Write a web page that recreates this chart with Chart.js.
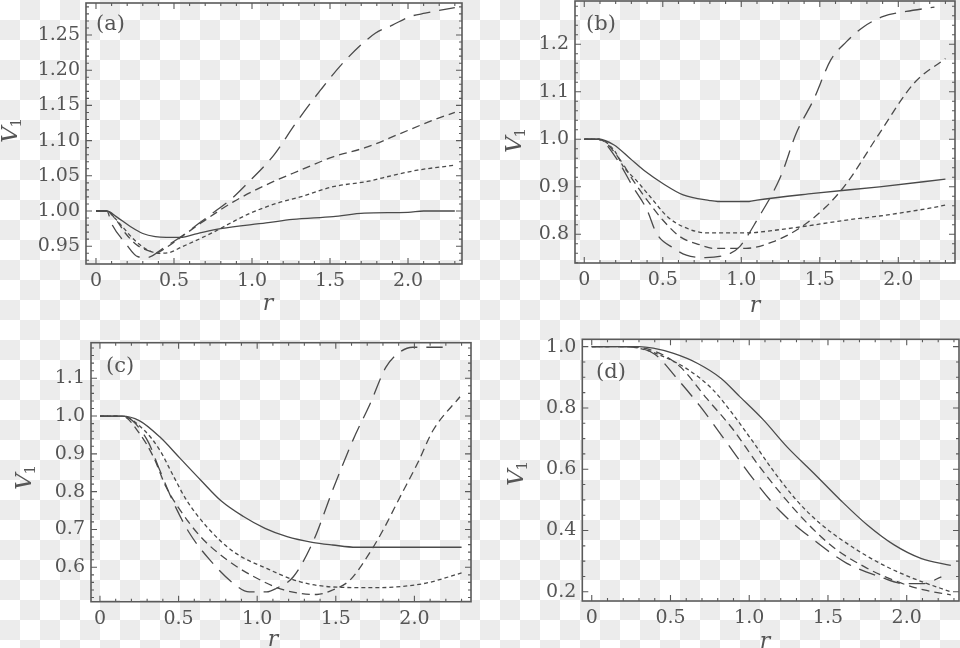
<!DOCTYPE html>
<html><head><meta charset="utf-8">
<script src="https://cdn.jsdelivr.net/npm/chart.js@4/dist/chart.umd.min.js"></script>
<style>
html,body{margin:0;padding:0;}
body{width:960px;height:648px;overflow:hidden;position:relative;background-color:#ffffff;
background-image:url("data:image/svg+xml,%3Csvg xmlns='http://www.w3.org/2000/svg' width='40' height='40'%3E%3Crect x='20' y='0' width='20' height='20' fill='%23ececec'/%3E%3Crect x='0' y='20' width='20' height='20' fill='%23ececec'/%3E%3C/svg%3E");
background-size:40px 40px;background-repeat:repeat;}
.p{position:absolute;width:480px;height:324px;}
</style></head><body>
<div class="p" style="left:0;top:0"><canvas id="ca" width="480" height="324"></canvas></div>
<div class="p" style="left:480px;top:0"><canvas id="cb" width="480" height="324"></canvas></div>
<div class="p" style="left:0;top:324px"><canvas id="cc" width="480" height="324"></canvas></div>
<div class="p" style="left:480px;top:324px"><canvas id="cd" width="480" height="324"></canvas></div>
<script>
// ---------- tick values / labels ----------
const X_TICKS = [0, 0.5, 1.0, 1.5, 2.0];
const X_LABELS = ['0', '0.5', '1.0', '1.5', '2.0'];
const A_Y_TICKS = [0.95, 1.00, 1.05, 1.10, 1.15, 1.20, 1.25];
const A_Y_LABELS = ['0.95', '1.00', '1.05', '1.10', '1.15', '1.20', '1.25'];
const B_Y_TICKS = [0.8, 0.9, 1.0, 1.1, 1.2];
const B_Y_LABELS = ['0.8', '0.9', '1.0', '1.1', '1.2'];
const C_Y_TICKS = [0.6, 0.7, 0.8, 0.9, 1.0, 1.1];
const C_Y_LABELS = ['0.6', '0.7', '0.8', '0.9', '1.0', '1.1'];
const D_Y_TICKS = [0.2, 0.4, 0.6, 0.8, 1.0];
const D_Y_LABELS = ['0.2', '0.4', '0.6', '0.8', '1.0'];

// ---------- panel (a) ----------
const A_SOLID_R = [0, 0.07, 0.13, 0.22, 0.30, 0.38, 0.45, 0.54, 0.65, 0.80, 1.09, 1.26, 1.52, 1.72, 2.0, 2.1, 2.30];
const A_SOLID_V = [1.0, 1.0, 0.992, 0.978, 0.968, 0.9635, 0.9625, 0.9625, 0.968, 0.975, 0.983, 0.988, 0.992, 0.997, 0.998, 1.0, 1.0];
const A_SHORT_R = [0, 0.07, 0.12, 0.18, 0.25, 0.32, 0.40, 0.47, 0.55, 0.67, 0.78, 0.88, 0.99, 1.16, 1.31, 1.52, 1.74, 1.91, 2.06, 2.30];
const A_SHORT_V = [1, 1, 0.99, 0.975, 0.958, 0.946, 0.940, 0.941, 0.949, 0.961, 0.973, 0.985, 0.997, 1.011, 1.02, 1.0345, 1.042, 1.051, 1.058, 1.065];
const A_MED_R = [0, 0.07, 0.13, 0.19, 0.26, 0.33, 0.39, 0.45, 0.54, 0.67, 0.88, 1.09, 1.31, 1.52, 1.74, 1.95, 2.16, 2.30];
const A_MED_V = [1, 1, 0.987, 0.968, 0.952, 0.944, 0.941, 0.948, 0.962, 0.9825, 1.013, 1.037, 1.058, 1.077, 1.091, 1.110, 1.129, 1.14];
const A_LONG_R = [0, 0.07, 0.10, 0.19, 0.27, 0.33, 0.43, 0.56, 0.66, 0.76, 0.86, 0.96, 1.14, 1.28, 1.44, 1.60, 1.79, 1.90, 2.01, 2.11, 2.30];
const A_LONG_V = [1, 1, 0.982, 0.954, 0.935, 0.934, 0.947, 0.966, 0.9825, 0.999, 1.0156, 1.037, 1.0795, 1.1246, 1.172, 1.2145, 1.2524, 1.264, 1.276, 1.281, 1.289];

// ---------- panel (b) ----------
const B_SOLID_R = [0, 0.09, 0.19, 0.29, 0.39, 0.50, 0.63, 0.80, 0.85, 1.05, 1.10, 1.46, 1.88, 2.30];
const B_SOLID_V = [1, 1, 0.988, 0.96, 0.932, 0.907, 0.883, 0.871, 0.869, 0.869, 0.872, 0.886, 0.900, 0.916];
const B_SHORT_R = [0, 0.09, 0.19, 0.25, 0.33, 0.42, 0.53, 0.63, 0.78, 1.03, 1.25, 1.46, 1.67, 1.88, 2.2, 2.31];
const B_SHORT_V = [1, 1, 0.977, 0.942, 0.914, 0.879, 0.837, 0.816, 0.803, 0.803, 0.810, 0.8196, 0.830, 0.8385, 0.855, 0.862];
const B_MED_R = [0, 0.09, 0.23, 0.31, 0.40, 0.50, 0.61, 0.74, 0.82, 1.03, 1.20, 1.37, 1.54, 1.67, 1.88, 2.10, 2.30];
const B_MED_V = [1, 1, 0.956, 0.914, 0.872, 0.83, 0.795, 0.7775, 0.7705, 0.7705, 0.784, 0.8126, 0.858, 0.907, 1.0126, 1.118, 1.17];
const B_LONG_R = [0, 0.09, 0.20, 0.31, 0.40, 0.46, 0.57, 0.65, 0.77, 0.93, 0.99, 1.10, 1.25, 1.35, 1.46, 1.57, 1.67, 1.78, 1.90, 2.05, 2.23];
const B_LONG_V = [1, 1, 0.962, 0.90, 0.851, 0.802, 0.7705, 0.756, 0.751, 0.76, 0.774, 0.83, 0.921, 1.0126, 1.083, 1.167, 1.2055, 1.237, 1.258, 1.269, 1.278];

// ---------- panel (c) ----------
const C_SOLID_R = [0, 0.14, 0.25, 0.38, 0.51, 0.64, 0.77, 0.91, 1.05, 1.19, 1.35, 1.48, 1.63, 2.30];
const C_SOLID_V = [1, 1, 0.988, 0.945, 0.888, 0.831, 0.776, 0.735, 0.703, 0.681, 0.666, 0.659, 0.653, 0.653];
const C_SHORT_R = [0, 0.14, 0.28, 0.38, 0.47, 0.55, 0.68, 0.85, 1.06, 1.27, 1.48, 1.74, 2.06, 2.30];
const C_SHORT_V = [1, 1, 0.963, 0.910, 0.839, 0.778, 0.707, 0.641, 0.597, 0.562, 0.548, 0.546, 0.557, 0.585];
const C_MED_R = [0, 0.14, 0.25, 0.34, 0.42, 0.51, 0.64, 0.81, 0.98, 1.17, 1.38, 1.48, 1.59, 1.70, 1.80, 1.91, 2.02, 2.12, 2.29];
const C_MED_V = [1, 1, 0.955, 0.892, 0.813, 0.751, 0.681, 0.619, 0.575, 0.540, 0.528, 0.540, 0.566, 0.628, 0.698, 0.787, 0.875, 0.963, 1.051];
const C_LONG_R = [0, 0.14, 0.30, 0.38, 0.47, 0.57, 0.70, 0.85, 0.95, 1.06, 1.12, 1.23, 1.36, 1.48, 1.61, 1.72, 1.82, 1.91, 1.99, 2.18];
const C_LONG_V = [1, 1, 0.937, 0.857, 0.769, 0.690, 0.619, 0.557, 0.535, 0.535, 0.544, 0.575, 0.672, 0.804, 0.937, 1.034, 1.130, 1.170, 1.182, 1.182];

// ---------- panel (d) ----------
const D_SOLID_R = [0, 0.30, 0.39, 0.52, 0.67, 0.82, 0.94, 1.09, 1.24, 1.41, 1.58, 1.75, 1.92, 2.09, 2.28];
const D_SOLID_V = [1, 1, 0.995, 0.978, 0.946, 0.897, 0.837, 0.761, 0.673, 0.587, 0.499, 0.418, 0.353, 0.309, 0.286];
const D_SHORT_R = [0, 0.20, 0.30, 0.43, 0.60, 0.77, 0.90, 1.03, 1.15, 1.30, 1.45, 1.62, 1.83, 2.04, 2.28];
const D_SHORT_V = [1, 1, 0.995, 0.973, 0.929, 0.859, 0.777, 0.685, 0.597, 0.499, 0.423, 0.358, 0.293, 0.244, 0.20];
const D_MED_R = [0, 0.20, 0.40, 0.56, 0.73, 0.90, 1.05, 1.20, 1.37, 1.53, 1.73, 1.94, 2.11, 2.28];
const D_MED_V = [1, 1, 0.985, 0.935, 0.831, 0.728, 0.619, 0.521, 0.423, 0.347, 0.282, 0.233, 0.206, 0.19];
const D_LONG_R = [0, 0.20, 0.40, 0.54, 0.69, 0.86, 1.03, 1.20, 1.41, 1.62, 1.83, 1.98, 2.11, 2.22];
const D_LONG_V = [1, 1, 0.975, 0.897, 0.804, 0.685, 0.565, 0.461, 0.369, 0.293, 0.249, 0.227, 0.227, 0.249];

// ---------- styling ----------
const LINE_COLOR = '#4a4a4a';
const TEXT_COLOR = '#555555';
const FRAME_COLOR = '#5a5a5a';
const DASH = { solid: [], short: [4, 3], med: [8, 5], long: [17, 9] };
const TICK_FONT = { family: "'DejaVu Serif', serif", size: 19 };

function series(r, v, kind) {
  return {
    data: r.map((x, i) => ({ x: x, y: v[i] })),
    showLine: true, borderColor: LINE_COLOR, borderWidth: 1.3,
    borderDash: DASH[kind], pointRadius: 0, pointHoverRadius: 0,
    cubicInterpolationMode: 'monotone', fill: false
  };
}

const framePlugin = {
  id: 'frame',
  afterDatasetsDraw(chart) {
    const o = chart.config.options.plugins.frame;
    const ctx = chart.ctx, a = chart.chartArea;
    const xs = chart.scales.x, ys = chart.scales.y;
    ctx.save();
    ctx.strokeStyle = FRAME_COLOR;
    ctx.lineWidth = 1.1;
    const drawTicks = (scale, step, major, horiz) => {
      const k0 = Math.ceil(scale.min / step - 1e-9), k1 = Math.floor(scale.max / step + 1e-9);
      for (let k = k0; k <= k1; k++) {
        const v = k * step;
        const isMajor = Math.abs(v / major - Math.round(v / major)) < 1e-6;
        const len = isMajor ? 6 : 3;
        const p = scale.getPixelForValue(v);
        ctx.beginPath();
        if (horiz) {
          ctx.moveTo(p, a.bottom); ctx.lineTo(p, a.bottom - len);
          ctx.moveTo(p, a.top); ctx.lineTo(p, a.top + len);
        } else {
          ctx.moveTo(a.left, p); ctx.lineTo(a.left + len, p);
          ctx.moveTo(a.right, p); ctx.lineTo(a.right - len, p);
        }
        ctx.stroke();
      }
    };
    drawTicks(xs, 0.1, 0.5, true);
    drawTicks(ys, o.yMinor, o.yMajor, false);
    ctx.lineWidth = 1.6;
    ctx.strokeRect(a.left, a.top, a.right - a.left, a.bottom - a.top);
    ctx.restore();
  },
  afterDraw(chart) {
    const o = chart.config.options.plugins.frame;
    const ctx = chart.ctx;
    ctx.save();
    ctx.fillStyle = TEXT_COLOR;
    ctx.textBaseline = 'middle';
    // panel tag
    ctx.font = "21px 'DejaVu Serif', serif";
    ctx.textAlign = 'left';
    ctx.fillText(o.tag, o.tagPos[0], o.tagPos[1]);
    // x title
    ctx.font = "italic 22px 'DejaVu Serif', serif";
    ctx.textAlign = 'center';
    ctx.fillText('r', o.rPos[0], o.rPos[1]);
    // y title V1 rotated
    ctx.translate(o.vPos[0], o.vPos[1]);
    ctx.rotate(-Math.PI / 2);
    ctx.font = "italic 23px 'DejaVu Serif', serif";
    const wV = ctx.measureText('V').width;
    ctx.font = "15px 'DejaVu Serif', serif";
    const w1 = ctx.measureText('1').width;
    const start = -(wV + w1) / 2;
    ctx.textAlign = 'left';
    ctx.font = "italic 23px 'DejaVu Serif', serif";
    ctx.fillText('V', start, 0);
    ctx.font = "15px 'DejaVu Serif', serif";
    ctx.fillText('1', start + wV - 1, 6);
    ctx.restore();
  }
};

function makePanel(id, p) {
  const H = 324, W = 480;
  new Chart(document.getElementById(id), {
    type: 'scatter',
    data: { datasets: p.sets },
    options: {
      responsive: false, animation: false, devicePixelRatio: 1,
      layout: { padding: { left: 0, top: p.area.t, right: W - p.area.r, bottom: 0 } },
      plugins: {
        legend: { display: false }, tooltip: { enabled: false },
        frame: { yMinor: p.yMinor, yMajor: p.yMajor, tag: p.tag, tagPos: p.tagPos, vPos: p.vPos, rPos: p.rPos }
      },
      scales: {
        x: {
          type: 'linear', min: p.xMin, max: p.xMax,
          afterBuildTicks: s => { s.ticks = X_TICKS.map(v => ({ value: v })); },
          afterFit: s => { s.height = H - p.area.b; s.paddingLeft = 0; s.paddingRight = 0; s.paddingTop = 0; s.paddingBottom = 0; },
          ticks: { callback: (v, i) => X_LABELS[i], font: TICK_FONT, color: TEXT_COLOR, padding: 6, maxRotation: 0, autoSkip: false },
          grid: { display: false, drawTicks: false }, border: { display: false }
        },
        y: {
          type: 'linear', min: p.yMin, max: p.yMax,
          afterBuildTicks: s => { s.ticks = p.yTicks.map(v => ({ value: v })); },
          afterFit: s => { s.width = p.area.l; s.paddingLeft = 0; s.paddingRight = 0; s.paddingTop = 0; s.paddingBottom = 0; },
          ticks: { callback: (v, i) => p.yLabels[i], font: TICK_FONT, color: TEXT_COLOR, padding: 6, autoSkip: false },
          grid: { display: false, drawTicks: false }, border: { display: false }
        }
      }
    },
    plugins: [framePlugin]
  });
}

makePanel('ca', {
  area: { l: 86, r: 462, t: 3, b: 264 }, xMin: -0.064, xMax: 2.346, yMin: 0.9247, yMax: 1.2955,
  yTicks: A_Y_TICKS, yLabels: A_Y_LABELS, yMinor: 0.01, yMajor: 0.05,
  tag: '(a)', tagPos: [96, 25], vPos: [11, 130], rPos: [268, 304],
  sets: [series(A_SOLID_R, A_SOLID_V, 'solid'), series(A_SHORT_R, A_SHORT_V, 'short'),
         series(A_MED_R, A_MED_V, 'med'), series(A_LONG_R, A_LONG_V, 'long')]
});
makePanel('cb', {
  area: { l: 95, r: 475, t: 1, b: 263 }, xMin: -0.059, xMax: 2.361, yMin: 0.7396, yMax: 1.291,
  yTicks: B_Y_TICKS, yLabels: B_Y_LABELS, yMinor: 0.02, yMajor: 0.1,
  tag: '(b)', tagPos: [106, 25], vPos: [35, 140], rPos: [275, 306],
  sets: [series(B_SOLID_R, B_SOLID_V, 'solid'), series(B_SHORT_R, B_SHORT_V, 'short'),
         series(B_MED_R, B_MED_V, 'med'), series(B_LONG_R, B_LONG_V, 'long')]
});
makePanel('cc', {
  area: { l: 91, r: 471, t: 18.7, b: 277.7 }, xMin: -0.057, xMax: 2.36, yMin: 0.509, yMax: 1.194,
  yTicks: C_Y_TICKS, yLabels: C_Y_LABELS, yMinor: 0.02, yMajor: 0.1,
  tag: '(c)', tagPos: [106, 43], vPos: [25, 153], rPos: [273, 316],
  sets: [series(C_SOLID_R, C_SOLID_V, 'solid'), series(C_SHORT_R, C_SHORT_V, 'short'),
         series(C_MED_R, C_MED_V, 'med'), series(C_LONG_R, C_LONG_V, 'long')]
});
makePanel('cd', {
  area: { l: 102.3, r: 479, t: 15.3, b: 277 }, xMin: -0.06, xMax: 2.332, yMin: 0.17, yMax: 1.024,
  yTicks: D_Y_TICKS, yLabels: D_Y_LABELS, yMinor: 0.05, yMajor: 0.2,
  tag: '(d)', tagPos: [116, 49], vPos: [37, 149], rPos: [285, 318],
  sets: [series(D_SOLID_R, D_SOLID_V, 'solid'), series(D_SHORT_R, D_SHORT_V, 'short'),
         series(D_MED_R, D_MED_V, 'med'), series(D_LONG_R, D_LONG_V, 'long')]
});
</script>
</body></html>
